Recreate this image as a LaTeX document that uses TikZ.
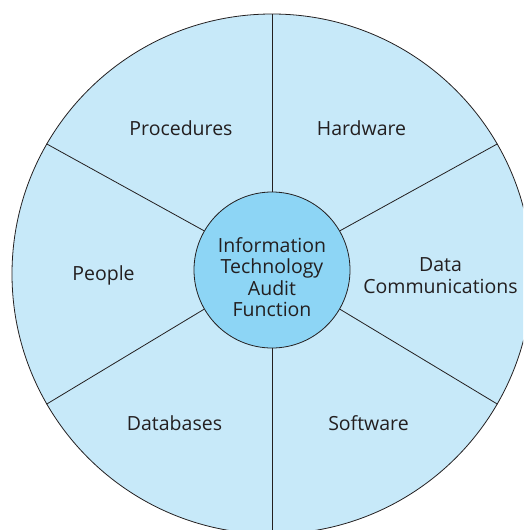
\documentclass[tikz,border=0pt]{standalone}
\usepackage{fontspec}
\setmainfont{Open Sans}
\usepackage{xcolor}
\definecolor{wheelfill}{RGB}{199,233,249}
\definecolor{hubfill}{RGB}{141,213,245}
\definecolor{rimline}{RGB}{35,31,32}
\usetikzlibrary{positioning}

\begin{document}
\begin{tikzpicture}[
  x=1pt, y=-1pt,
  every node/.style={font=\fontsize{19.5}{21.3}\selectfont, text=rimline, align=center},
  ring/.style={circle, draw=rimline, line width=0.8pt, inner sep=0pt},
  spoke/.style={draw=rimline, line width=0.8pt},
  sector/.style={anchor=base},
]
\useasboundingbox (0,0) rectangle (523,530);
\clip (0,0) rectangle (523,530);
\node[ring, fill=wheelfill, minimum size=520pt] (wheel) at (272,274) {};
\node[ring, fill=hubfill, minimum size=156pt] (hub) at (272,270) {};
\foreach \a in {30,90,...,330}
  \draw[spoke] (hub.\a) -- (wheel.\a);
\node (audit) at (272,277) {Information\\Technology\\Audit\\Function};
\node[sector] (procedures) at (181,135.5) {Procedures};
\node[sector] (hardware) at (361.5,135) {Hardware};
\node[sector] (people) at (103.5,280.5) {People};
\node (datacomm) at (440.5,275.5) {Data\\Communications};
\node[sector] (databases) at (174.5,430.5) {Databases};
\node[sector] (software) at (368.5,430) {Software};
\end{tikzpicture}
\end{document}
